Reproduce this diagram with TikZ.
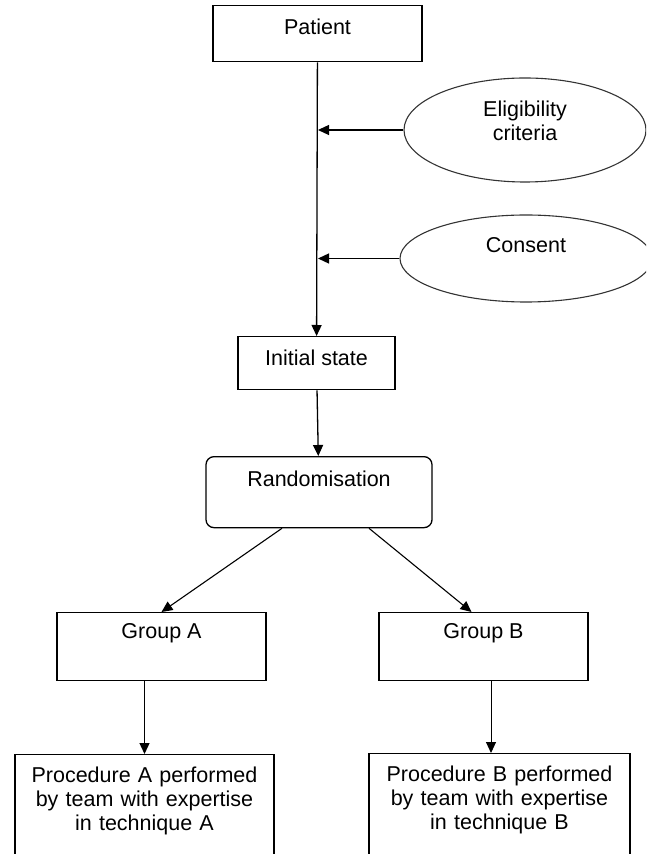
\documentclass[tikz,border=0pt]{standalone}
\usepackage{fontspec}
\setmainfont{Liberation Sans}
\usepackage{tikz}
\usetikzlibrary{arrows.meta}
\usetikzlibrary{shapes.geometric}
\newcommand{\widthbox}{104.5pt}
\newcommand{\widthprocedure}{129.5pt}
\tikzset{
    common/.style={anchor=north, draw, rectangle, inner ysep=0pt, line width=0.65pt},
    group/.style={common, minimum width=\widthbox, text height=13pt, text depth=21pt},
    procedure/.style={common, minimum width=\widthprocedure, text width=120pt, align=center, text height=14pt, text depth=46pt},
    criterion/.style={draw=black!80, ellipse, line width=0.55pt, inner sep=0pt, text width=70pt, align=center},
    flow/.style={-{Triangle[length=5.5pt, width=5pt]}, line width=0.65pt},
    split/.style={line width=0.55pt}
}

\begin{document}
\begin{tikzpicture}[x=0.5pt, y=-0.5pt, font=\fontsize{10.75}{12}\selectfont]
              \clip (0,0) rectangle (646,854);

              \path
                (317.5,5) node[common, minimum width=\widthbox, text height=14.5pt, text depth=13.5pt] (patient) {Patient}
                (316.5,336) node[common, minimum width=78.5pt, text height=14.5pt, text depth=12pt] (initial-state) {Initial state}
                (319,456) node[common, rounded corners=4pt, minimum width=113pt, text height=15pt, text depth=20.5pt] (randomisation) {Randomisation};

              \path
                (525,130) node[criterion, minimum width=121pt, minimum height=52pt, text height=8pt, text depth=21pt] (eligibility) {Eligibility\\criteria}
                (526,258.5) node[criterion, minimum width=126pt, minimum height=43.5pt, text height=8pt, text depth=13.5pt] (consent) {Consent};

              \path
                (161.5,612) node[group] (group-a) {Group A}
                (483.5,612) node[group] (group-b) {Group B}
                (144.5,754) node[procedure] (procedure-a) {Procedure A performed\\by team with expertise\\in technique A}
                (499.5,753) node[procedure, minimum width=130.5pt] (procedure-b) {Procedure B performed\\by team with expertise\\in technique B};

              \coordinate (eligibility-in) at (318,130);
              \coordinate (consent-in) at (318,258.5);

              \draw[flow] (patient) -- (initial-state);
              \draw[flow] (eligibility) -- (eligibility-in);
              \draw[flow] (consent) -- (consent-in);
              \draw[flow] (initial-state) -- (randomisation);

              \draw[flow, split] ([xshift=-18.5pt]randomisation.south) -- (group-a.north);
              \draw[flow, split] ([xshift=25pt]randomisation.south) -- ([xshift=-6pt]group-b.north);

              \draw[flow] (procedure-a.north |- group-a.south) -- (procedure-a.north);
              \draw[flow, line width=0.5pt] ([xshift=3.75pt]group-b.south) -- ([xshift=3.75pt]group-b.south |- procedure-b.north);
            \end{tikzpicture}
\end{document}
